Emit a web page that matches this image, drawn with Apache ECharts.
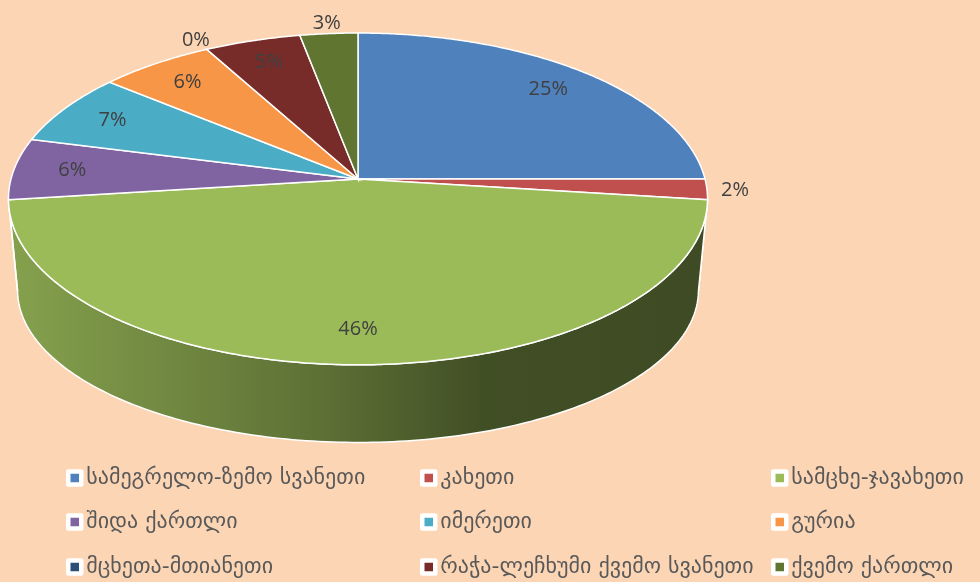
<!DOCTYPE html>
<html>
<head>
<meta charset="utf-8">
<script src="https://cdn.jsdelivr.net/npm/echarts@6/dist/echarts.min.js"></script>
<style>
  html, body { margin: 0; padding: 0; background: #FCD5B4; }
  #chart { width: 980px; height: 582px; }
</style>
</head>
<body>
<div id="chart"></div>
<script>
const categories = [
  "სამეგრელო-ზემო სვანეთი",
  "კახეთი",
  "სამცხე-ჯავახეთი",
  "შიდა ქართლი",
  "იმერეთი",
  "გურია",
  "მცხეთა-მთიანეთი",
  "რაჭა-ლეჩხუმი ქვემო სვანეთი",
  "ქვემო ქართლი"
];
const shares = [25, 2, 46, 6, 7, 6, 0, 5, 3];
const sliceColors = ["#4F81BD", "#C0504D", "#9BBB59", "#8064A2", "#4BACC6", "#F79646", "#2C4D75", "#772C2A", "#5F7530"];

// 3d pie geometry (perspective ellipse)
const CX = 358, CY = 179, RX = 347, RY = 163.5, K = 0.12;
const CY2 = 272, RX2 = 338, RY2 = 150;
const VIS0 = Math.acos(-K) * 180 / Math.PI; // left/right silhouette
const VIS1 = 360 - VIS0;

const total = shares.reduce((a, b) => a + b, 0);
const starts = [];
shares.reduce((acc, v, i) => { starts[i] = acc; return acc + v / total * 360; }, 0);

function topPt(deg, r) {
  const t = deg * Math.PI / 180, s = Math.sin(t) * r, c = Math.cos(t) * r, w = 1 + K * c;
  return [CX + RX * s / w, CY - RY * c / w];
}
function botPt(deg) {
  const t = deg * Math.PI / 180, s = Math.sin(t), c = Math.cos(t), w = 1 + K * c;
  return [CX + RX2 * s / w, CY2 - RY2 * c / w];
}
function shade(hex, f) {
  const n = parseInt(hex.slice(1), 16);
  const r = Math.round(((n >> 16) & 255) * f), g = Math.round(((n >> 8) & 255) * f), b = Math.round((n & 255) * f);
  return "rgb(" + r + "," + g + "," + b + ")";
}

function renderItem(params, api) {
  const i = params.dataIndex;
  const v = api.value(0);
  const s = starts[i], e = s + v / total * 360;
  const col = sliceColors[i];
  const children = [];

  // side wall, only the part facing the viewer
  const a0 = Math.max(s, VIS0), a1 = Math.min(e, VIS1);
  if (a1 > a0) {
    const pts = [];
    for (let a = a0; a < a1; a += 1) pts.push(topPt(a, 1));
    pts.push(topPt(a1, 1));
    for (let a = a1; a > a0; a -= 1) pts.push(botPt(a));
    pts.push(botPt(a0));
    children.push({
      type: "polygon",
      z2: 1,
      shape: { points: pts },
      style: {
        fill: new echarts.graphic.LinearGradient(CX - RX, 0, CX + RX, 0, [
          { offset: 0, color: shade(col, 0.86) },
          { offset: 0.45, color: shade(col, 0.6) },
          { offset: 0.68, color: shade(col, 0.42) },
          { offset: 1, color: shade(col, 0.4) }
        ], true),
        stroke: "#fff",
        lineWidth: 1.5
      }
    });
  }

  // top face
  if (e > s) {
    const pts = [[CX, CY]];
    for (let a = s; a < e; a += 0.5) pts.push(topPt(a, 1));
    pts.push(topPt(e, 1));
    children.push({
      type: "polygon",
      z2: 10,
      shape: { points: pts },
      style: { fill: col, stroke: "#fff", lineWidth: 1.5 }
    });
  }

  // data label
  const p = topPt((s + e) / 2, v < 4 ? 1.08 : 0.83);
  children.push({
    type: "text",
    z2: 20,
    x: p[0],
    y: p[1],
    style: {
      text: v + "%",
      fill: "#404040",
      font: "20px 'Open Sans'",
      align: "center",
      verticalAlign: "middle"
    }
  });

  return { type: "group", children: children };
}

const chart = echarts.init(document.getElementById("chart"), null, { renderer: "canvas" });

const colX = [66, 420, 771];
const rowY = [467, 511, 556];

const option = {
  backgroundColor: "#FCD5B4",
  animation: false,
  legend: categories.map((name, i) => ({
    data: [name],
    left: colX[i % 3],
    top: rowY[Math.floor(i / 3)],
    padding: 0,
    icon: "rect",
    itemWidth: 13,
    itemHeight: 13,
    selectedMode: false,
    itemStyle: { borderColor: "#fff", borderWidth: 4.5 },
    textStyle: { fontFamily: "DejaVu Sans", fontSize: 22, color: "#595959" }
  })),
  series: [
    {
      // drawn pie (custom 3d)
      type: "custom",
      coordinateSystem: "none",
      renderItem: renderItem,
      silent: true,
      data: shares.map((v, i) => ({ name: categories[i], value: v }))
    },
    {
      // feeds the legend only
      type: "pie",
      radius: [0, 0],
      center: [-100, -100],
      silent: true,
      label: { show: false },
      labelLine: { show: false },
      data: shares.map((v, i) => ({ name: categories[i], value: v, itemStyle: { color: sliceColors[i] } }))
    }
  ]
};
chart.setOption(option);
</script>
</body>
</html>
